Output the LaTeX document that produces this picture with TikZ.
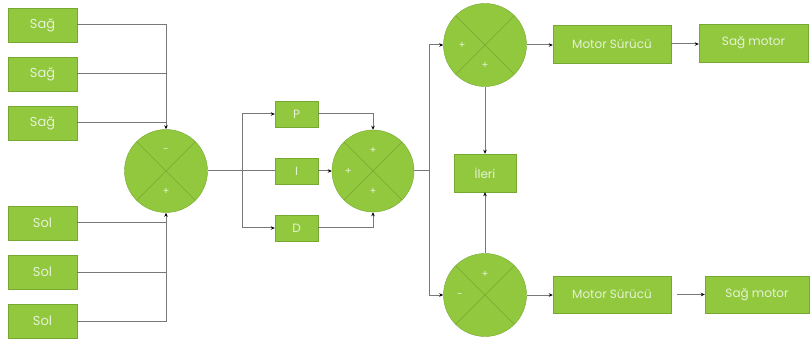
\documentclass[tikz,border=0pt]{standalone}
\usepackage{fontspec}
\setmainfont{Poppins}
\usetikzlibrary{positioning, calc, arrows.meta}
\definecolor{yesil}{HTML}{92C83E}
\definecolor{koyu}{HTML}{76A832}
\definecolor{hat}{HTML}{787878}
\definecolor{yazi}{HTML}{E6F2D6}

\tikzset{
  kutu/.style={rectangle, draw=koyu, fill=yesil, text=yazi, inner sep=0pt,
    font=\fontsize{12}{14}\selectfont},
  giris/.style={kutu, minimum width=69pt, minimum height=34pt, font=\fontsize{13}{15}\selectfont},
  toplayici/.style={circle, draw=koyu, fill=yesil, minimum size=83pt, inner sep=0pt},
  isaret/.style={text=yazi, font=\fontsize{10}{12}\selectfont, inner sep=0pt},
  hatt/.style={draw=hat, line width=1pt},
}

\begin{document}
\begin{tikzpicture}[x=1pt, y=-1pt, >={Stealth[length=4pt, width=3.5pt, color=black]}]
    \useasboundingbox (0,0) rectangle (811,339);
    % girisler
    \node[giris] (sag1) at (42.5,25) {Sağ};
    \node[giris] (sag2) at (42.5,74) {Sağ};
    \node[giris] (sag3) at (42.5,123) {Sağ};
    \node[giris] (sol1) at (42.5,223) {Sol};
    \node[giris] (sol2) at (42.5,272) {Sol};
    \node[giris] (sol3) at (42.5,321) {Sol};
    % toplayicilar
    \node[toplayici] (fark) at (166,171) {};
    \node[toplayici, minimum size=82pt] (toplam) at (373,171) {};
    \node[toplayici] (ust) at (485,45) {};
    \node[toplayici] (alt) at (485,295) {};
    \foreach \c in {fark, toplam, ust, alt}
        \draw[koyu] (\c.north west) -- (\c.south east) (\c.north east) -- (\c.south west);
    % PID
    \node[kutu, minimum width=43pt, minimum height=26pt] (P) at (296.5,114) {P};
    \node[kutu, minimum width=43pt, minimum height=26pt] (I) at (296.5,171) {I};
    \node[kutu, minimum width=43pt, minimum height=26pt] (D) at (296.5,228) {D};
    \node[kutu, minimum width=62pt, minimum height=38pt] (ileri) at (485,173) {İleri};
    % cikislar
    \node[kutu, minimum width=118pt, minimum height=38pt] (ms1) at (612,44) {Motor Sürücü};
    \node[kutu, minimum width=109pt, minimum height=38pt] (sm1) at (753.5,43) {Sağ motor};
    \node[kutu, minimum width=118pt, minimum height=37pt] (ms2) at (612,294.5) {Motor Sürücü};
    \node[kutu, minimum width=104pt, minimum height=37pt] (sm2) at (757,294.5) {Sağ motor};
    \coordinate (ayir) at (242,171);
    \coordinate (dagit) at (429,171);

    % isaretler
    \node[isaret] at ($(fark.center)!0.5!(fark.north)$) {-};
    \node[isaret] at ($(fark.center)!0.5!(fark.south)$) {+};
    \node[isaret] at ($(toplam.center)!0.5!(toplam.north)$) {+};
    \node[isaret] at ($(toplam.center)!0.6!(toplam.west)$) {+};
    \node[isaret] at ($(toplam.center)!0.5!(toplam.south)$) {+};
    \node[isaret] at ($(ust.center)!0.55!(ust.west)$) {+};
    \node[isaret] at ($(ust.center)!0.5!(ust.south)$) {+};
    \node[isaret] at ($(alt.center)!0.5!(alt.north)$) {+};
    \node[isaret] at ($(alt.center)!0.6!(alt.west)$) {-};

    % baglantilar
    \draw[hatt, ->] (sag1.east) -| (fark.north);
    \draw[hatt] (sag2.east) -- (sag2.east -| fark.north);
    \draw[hatt] (sag3.east) -- (sag3.east -| fark.north);
    \draw[hatt, ->] (sol3.east) -| (fark.south);
    \draw[hatt] (sol2.east) -- (sol2.east -| fark.south);
    \draw[hatt] (sol1.east) -- (sol1.east -| fark.south);
    \draw[hatt] (fark.east) -- (I.west);
    \draw[hatt, ->] (ayir) |- (P.west);
    \draw[hatt, ->] (ayir) |- (D.west);
    \draw[hatt, ->] (P.east) -| (toplam.north);
    \draw[hatt, ->] (I.east) -- (toplam.west);
    \draw[hatt, ->] (D.east) -| (toplam.south);
    \draw[hatt] (toplam.east) -- (dagit);
    \draw[hatt, ->] (dagit) |- (ust.west);
    \draw[hatt, ->] (dagit) |- (alt.west);
    \draw[hatt, ->] (ust.south) -- (ileri.north);
    \draw[hatt, ->] (alt.north) -- (ileri.south);
    \draw[hatt, ->] (ust.east) -- (ust.east -| ms1.west);
    \draw[hatt, ->] (ms1.east) -- (ms1.east -| sm1.west);
    \draw[hatt, ->] (alt.east) -- (alt.east -| ms2.west);
    \draw[hatt, ->, shorten <=6pt] (ms2.east) -- (sm2.west);
\end{tikzpicture}
\end{document}
